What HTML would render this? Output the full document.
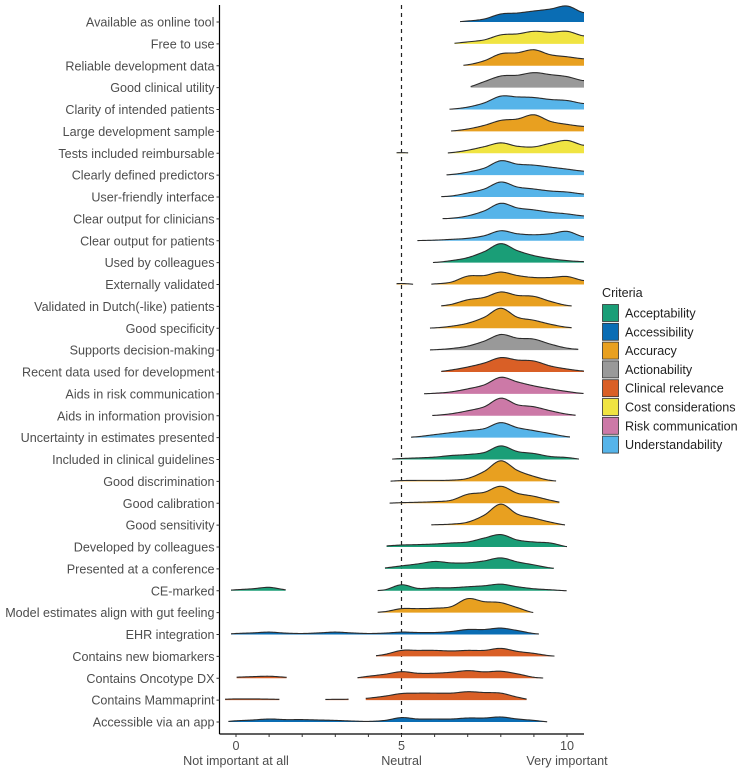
<!DOCTYPE html>
<html><head><meta charset="utf-8"><style>
html,body{margin:0;padding:0;background:#fff;}
svg{display:block;font-family:"Liberation Sans",Arial,sans-serif;}
</style></head><body>
<svg id="chart" width="743" height="773" viewBox="0 0 743 773"></svg>
<script>
const criteria = ["Available as online tool","Free to use","Reliable development data","Good clinical utility","Clarity of intended patients","Large development sample","Tests included reimbursable","Clearly defined predictors","User-friendly interface","Clear output for clinicians","Clear output for patients","Used by colleagues","Externally validated","Validated in Dutch(-like) patients","Good specificity","Supports decision-making","Recent data used for development","Aids in risk communication","Aids in information provision","Uncertainty in estimates presented","Included in clinical guidelines","Good discrimination","Good calibration","Good sensitivity","Developed by colleagues","Presented at a conference","CE-marked","Model estimates align with gut feeling","EHR integration","Contains new biomarkers","Contains Oncotype DX","Contains Mammaprint","Accessible via an app"];
const groups = ["Accessibility","Cost considerations","Accuracy","Actionability","Understandability","Accuracy","Cost considerations","Understandability","Understandability","Understandability","Understandability","Acceptability","Accuracy","Accuracy","Accuracy","Actionability","Clinical relevance","Risk communication","Risk communication","Understandability","Acceptability","Accuracy","Accuracy","Accuracy","Acceptability","Acceptability","Acceptability","Accuracy","Accessibility","Clinical relevance","Clinical relevance","Clinical relevance","Accessibility"];
const legendGroups = ["Acceptability","Accessibility","Accuracy","Actionability","Clinical relevance","Cost considerations","Risk communication","Understandability"];
const groupColors = ["#1a9e77","#0a6db4","#e8a020","#999999","#d95f26","#f0e442","#cc79a7","#56b4e9"];
// density grid: x = -0.5 .. 10.5 step 0.5
const gridX = [-0.5,0,0.5,1,1.5,2,2.5,3,3.5,4,4.5,5,5.5,6,6.5,7,7.5,8,8.5,9,9.5,10,10.5];
// segments [from,to] of each ridge
const ranges = [
 [[6.77,10.6]],[[6.6,10.6]],[[6.87,10.6]],[[7.09,10.6]],[[6.45,10.6]],[[6.5,10.6]],
 [[4.85,5.2],[6.4,10.6]],[[6.36,10.6]],[[6.2,10.6]],[[6.24,10.6]],[[5.48,10.6]],[[5.95,10.6]],
 [[4.85,5.35],[5.9,10.6]],[[6.2,10.14]],[[5.86,10.14]],[[5.86,10.34]],[[6.2,10.6]],[[5.68,10.5]],
 [[5.93,10.26]],[[5.29,10.09]],[[4.72,10.36]],[[4.67,9.67]],[[4.64,9.77]],[[5.9,9.94]],
 [[4.55,10.0]],[[4.5,9.6]],[[-0.15,1.5],[4.28,9.99]],[[4.28,8.98]],[[-0.15,9.15]],[[4.23,9.62]],
 [[0.02,1.53],[3.67,9.28]],[[-0.33,1.31],[2.7,3.4],[3.92,8.78]],[[-0.23,9.4]]
];
const densities = [
 [0,0,0,0,0,0,0,0,0,0,0,0,0,0,0,0.05,0.15,0.4,0.45,0.55,0.65,0.8,0.47],
 [0,0,0,0,0,0,0,0,0,0,0,0,0,0,0.02,0.1,0.2,0.45,0.5,0.63,0.58,0.63,0.4],
 [0,0,0,0,0,0,0,0,0,0,0,0,0,0,0,0.05,0.25,0.6,0.65,0.8,0.55,0.45,0.35],
 [0,0,0,0,0,0,0,0,0,0,0,0,0,0,0,0.02,0.3,0.58,0.62,0.75,0.65,0.55,0.35],
 [0,0,0,0,0,0,0,0,0,0,0,0,0,0,0.02,0.12,0.33,0.67,0.63,0.6,0.5,0.45,0.3],
 [0,0,0,0,0,0,0,0,0,0,0,0,0,0,0.02,0.12,0.3,0.55,0.62,0.83,0.5,0.35,0.25],
 [0,0,0,0,0,0,0,0,0,0,0,0.03,0,0,0.03,0.15,0.33,0.52,0.35,0.32,0.5,0.64,0.4],
 [0,0,0,0,0,0,0,0,0,0,0,0,0,0,0.03,0.15,0.35,0.72,0.55,0.5,0.4,0.3,0.2],
 [0,0,0,0,0,0,0,0,0,0,0,0,0,0.01,0.05,0.2,0.4,0.75,0.5,0.4,0.3,0.25,0.15],
 [0,0,0,0,0,0,0,0,0,0,0,0,0,0.01,0.03,0.15,0.4,0.78,0.55,0.45,0.33,0.25,0.15],
 [0,0,0,0,0,0,0,0,0,0,0,0,0.01,0.03,0.07,0.12,0.25,0.5,0.35,0.3,0.35,0.47,0.2],
 [0,0,0,0,0,0,0,0,0,0,0,0,0,0.01,0.1,0.25,0.55,0.95,0.6,0.35,0.2,0.1,0.05],
 [0,0,0,0,0,0,0,0,0,0,0,0.05,0,0.03,0.12,0.42,0.45,0.62,0.45,0.35,0.35,0.4,0.2],
 [0,0,0,0,0,0,0,0,0,0,0,0,0,0,0.1,0.33,0.45,0.72,0.55,0.5,0.25,0.05,0],
 [0,0,0,0,0,0,0,0,0,0,0,0,0,0.02,0.1,0.25,0.55,1.0,0.55,0.4,0.2,0.05,0],
 [0,0,0,0,0,0,0,0,0,0,0,0,0,0.02,0.08,0.2,0.45,0.78,0.6,0.55,0.3,0.1,0.03],
 [0,0,0,0,0,0,0,0,0,0,0,0,0,0,0.1,0.25,0.45,0.72,0.6,0.55,0.3,0.15,0.05],
 [0,0,0,0,0,0,0,0,0,0,0,0,0,0.03,0.1,0.25,0.45,0.83,0.6,0.4,0.25,0.12,0.02],
 [0,0,0,0,0,0,0,0,0,0,0,0,0,0.02,0.1,0.25,0.45,0.88,0.55,0.45,0.25,0.08,0],
 [0,0,0,0,0,0,0,0,0,0,0,0,0.05,0.15,0.25,0.35,0.45,0.75,0.5,0.35,0.2,0.05,0],
 [0,0,0,0,0,0,0,0,0,0,0,0.05,0.08,0.12,0.2,0.25,0.35,0.68,0.4,0.3,0.15,0.1,0],
 [0,0,0,0,0,0,0,0,0,0,0,0.04,0.05,0.05,0.06,0.15,0.5,1.03,0.55,0.25,0.05,0,0],
 [0,0,0,0,0,0,0,0,0,0,0,0.03,0.05,0.08,0.15,0.45,0.55,0.85,0.5,0.35,0.15,0,0],
 [0,0,0,0,0,0,0,0,0,0,0,0,0,0.02,0.05,0.15,0.5,1.05,0.55,0.35,0.15,0,0],
 [0,0,0,0,0,0,0,0,0,0,0.05,0.1,0.12,0.15,0.2,0.25,0.45,0.62,0.35,0.25,0.2,0.02,0],
 [0,0,0,0,0,0,0,0,0,0,0.05,0.15,0.25,0.37,0.3,0.3,0.4,0.55,0.35,0.2,0.05,0,0],
 [0,0.05,0.1,0.17,0.05,0,0,0,0,0,0.05,0.3,0.12,0.15,0.15,0.2,0.25,0.33,0.2,0.1,0.05,0,0],
 [0,0,0,0,0,0,0,0,0,0,0.05,0.2,0.2,0.22,0.3,0.7,0.55,0.5,0.25,0,0,0,0],
 [0,0.05,0.08,0.12,0.07,0.05,0.08,0.12,0.08,0.05,0.07,0.12,0.1,0.1,0.15,0.25,0.25,0.32,0.2,0.05,0,0,0],
 [0,0,0,0,0,0,0,0,0,0,0.1,0.3,0.3,0.3,0.27,0.3,0.3,0.4,0.25,0.15,0.03,0,0],
 [0,0.05,0.08,0.1,0.05,0,0,0,0,0.1,0.2,0.33,0.25,0.25,0.3,0.38,0.32,0.35,0.22,0.05,0,0,0],
 [0.04,0.06,0.06,0.05,0.03,0,0.03,0.04,0.05,0.1,0.2,0.33,0.35,0.35,0.35,0.42,0.38,0.35,0.15,0,0,0,0],
 [0,0.06,0.1,0.15,0.12,0.12,0.1,0.08,0.05,0.03,0.08,0.22,0.15,0.15,0.15,0.2,0.2,0.25,0.15,0.08,0,0,0]
];
const xTickValues = [0,5,10];
const xTickNames = ["Not important at all","Neutral","Very important"];

const NS="http://www.w3.org/2000/svg";
const svg=document.getElementById('chart');
const X0=236, PXU=33.1, Y0=22, ROW=21.875, DSCALE=20, XR=584, AXB=734, AXL=219.5, FS=12.6;
const xs=v=>X0+v*PXU;
const ys=i=>Y0+i*ROW;
function mk(tag,attrs,parent){const e=document.createElementNS(NS,tag);for(const k in attrs)e.setAttribute(k,attrs[k]);(parent||svg).appendChild(e);return e;}
function dens(d,v){
  const t=(v-gridX[0])/0.5;let i=Math.floor(t);if(i<0)return d[0];if(i>=d.length-1)return d[d.length-1];
  const f=t-i;const p0=d[Math.max(i-1,0)],p1=d[i],p2=d[i+1],p3=d[Math.min(i+2,d.length-1)];
  const val=0.5*((2*p1)+(-p0+p2)*f+(2*p0-5*p1+4*p2-p3)*f*f+(-p0+3*p1-3*p2+p3)*f*f*f);
  return Math.max(val,0);
}
const defs=mk('defs',{});
const cp=mk('clipPath',{id:'panel'},defs);
mk('rect',{x:AXL,y:0,width:XR-AXL,height:AXB},cp);

const nl=mk('line',{x1:xs(5),x2:xs(5),y1:5,y2:AXB,stroke:'#222','stroke-width':1.2,'stroke-dasharray':'4,4'});



const ridgeG=mk('g',{'clip-path':'url(#panel)'});


criteria.forEach((name,i)=>{
  const base=ys(i);
  const col=groupColors[legendGroups.indexOf(groups[i])];
  const g=mk('g',{},ridgeG);
  
  
  ranges[i].forEach(r=>{
    let pts=[];
    for(let v=r[0];v<=r[1]+1e-9;v+=0.04){pts.push([xs(v),base-dens(densities[i],v)*DSCALE]);}
    pts.push([xs(r[1]),base-dens(densities[i],r[1])*DSCALE]);
    const line=pts.map((p,k)=>(k?'L':'M')+p[0].toFixed(2)+','+p[1].toFixed(2)).join('');
    const area=line+'L'+xs(r[1]).toFixed(2)+','+base+'L'+xs(r[0]).toFixed(2)+','+base+'Z';
    mk('path',{d:area,fill:col,stroke:'none'},g);
    mk('path',{d:line,fill:'none',stroke:'#2b2b2b','stroke-width':1.1,'stroke-linejoin':'round'},g);
  });
});

const ya=mk('g',{});


mk('line',{x1:AXL,x2:AXL,y1:5,y2:AXB,stroke:'#000','stroke-width':1.2},ya);
criteria.forEach((name,i)=>{
  mk('line',{x1:AXL-3,x2:AXL,y1:ys(i),y2:ys(i),stroke:'#333','stroke-width':1},ya);
  const t=mk('text',{x:AXL-5,y:ys(i)+4.5,'text-anchor':'end','font-size':FS,fill:'#4d4d4d'},ya);
  t.textContent=name;
  
  
});
const xa=mk('g',{});


mk('line',{x1:AXL,x2:XR,y1:AXB,y2:AXB,stroke:'#000','stroke-width':1.2},xa);
for(let v=0;v<=10;v++){mk('line',{x1:xs(v),x2:xs(v),y1:AXB,y2:AXB+3,stroke:'#333','stroke-width':1},xa);}
xTickValues.forEach((v,k)=>{
  const t=mk('text',{x:xs(v),y:AXB+16,'text-anchor':'middle','font-size':FS,fill:'#4d4d4d'},xa);
  t.textContent=String(v);
  
  
  const s=mk('text',{x:xs(v),y:AXB+31,'text-anchor':'middle','font-size':FS,fill:'#4d4d4d'},xa);
  s.textContent=xTickNames[k];
  
  
});
const lg=mk('g',{});


const lt=mk('text',{x:602,y:297,'font-size':FS,fill:'#222'},lg);
lt.textContent='Criteria';


legendGroups.forEach((gname,k)=>{
  const y=304.5+k*18.8;
  const e=mk('g',{},lg);
  
  
  mk('rect',{x:602.5,y:y,width:16,height:17,fill:groupColors[k],stroke:'#333','stroke-width':0.8},e);
  const t=mk('text',{x:625,y:y+13,'font-size':FS,fill:'#222'},e);
  t.textContent=gname;
});
</script>
</body></html>
